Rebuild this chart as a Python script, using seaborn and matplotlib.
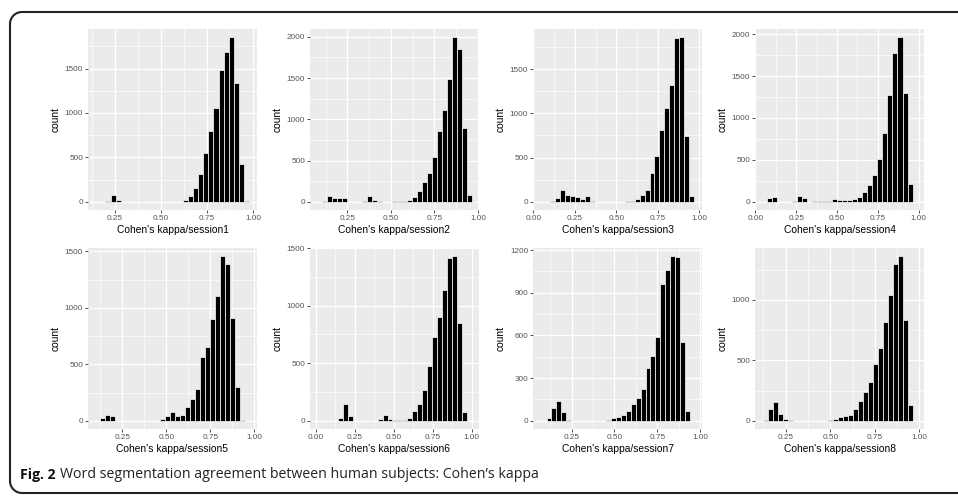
import numpy as np
import pandas as pd
import matplotlib
matplotlib.use("Agg")
import matplotlib.pyplot as plt
from matplotlib.lines import Line2D
from matplotlib.ticker import MultipleLocator, FormatStrFormatter
import seaborn as sns

# Kappa histograms, one per session: centre of the first bin, bin width, bin counts
sessions = ["session1", "session2", "session3", "session4",
            "session5", "session6", "session7", "session8"]
bin_first = [0.214, 0.119, 0.086, 0.057, 0.139, 0.029, 0.119, 0.136]
bin_width = [0.0278, 0.0288, 0.0300, 0.0307, 0.0284, 0.0319, 0.0288, 0.0281]

counts_s1 = [10, 72, 19, 0, 0, 0, 0, 0, 0, 0, 0, 0, 0, 0, 0,
             15, 60, 150, 312, 545, 797, 1060, 1485, 1692, 1853, 1342, 429, 5]
counts_s2 = [12, 72, 48, 44, 44, 0, 0, 3, 5, 64, 20, 8, 2, 3, 4, 5, 6,
             24, 60, 129, 245, 346, 539, 861, 1110, 1484, 1995, 1854, 897, 85]
counts_s3 = [2, 4, 38, 135, 71, 64, 56, 26, 64, 6, 1, 1, 1, 2, 2, 3, 5, 10,
             34, 75, 135, 323, 515, 812, 1056, 1320, 1853, 1861, 741, 68]
counts_s4 = [2, 47, 55, 3, 2, 2, 4, 63, 40, 3, 4, 5, 6, 8, 28, 20, 20, 16,
             36, 55, 119, 206, 321, 511, 815, 1279, 1778, 1964, 1303, 210]
counts_s5 = [21, 47, 44, 0, 0, 0, 0, 0, 0, 0, 0, 0, 18, 38, 82, 41, 53,
             124, 189, 277, 566, 654, 902, 1108, 1456, 1391, 913, 300, 5]
counts_s6 = [0, 0, 1, 2, 26, 148, 43, 2, 0, 0, 1, 2, 12, 52, 12, 3, 8, 10,
             26, 84, 142, 266, 478, 730, 898, 1135, 1413, 1430, 851, 75]
counts_s7 = [23, 89, 136, 65, 7, 1, 0, 0, 0, 0, 0, 1, 2, 23, 28, 40, 72,
             117, 157, 222, 374, 454, 589, 963, 1061, 1157, 1150, 552, 72]
counts_s8 = [3, 97, 157, 58, 14, 3, 1, 0, 0, 0, 0, 1, 2, 4, 14, 28, 36, 50,
             94, 163, 238, 320, 470, 605, 815, 1041, 1296, 1362, 834, 130]
all_counts = [counts_s1, counts_s2, counts_s3, counts_s4,
              counts_s5, counts_s6, counts_s7, counts_s8]

x_limits = [(0.106, 1.0195), (0.035, 1.006), (-0.003, 1.018), (-0.003, 1.033),
            (0.054, 1.016), (-0.038, 1.047), (0.026, 1.009), (0.078, 1.026)]
y_steps = [500, 500, 500, 500, 500, 500, 300, 500]

caption_bold = "Fig. 2"
caption_rest = "Word segmentation agreement between human subjects: Cohen\u2019s kappa"

W, H = 958, 496
sns.set_theme(style="darkgrid", rc={
    "axes.facecolor": "#EBEBEB",
    "grid.color": "white",
    "axes.axisbelow": True,
})
plt.rcParams["font.family"] = ["Liberation Sans", "DejaVu Sans"]

fig = plt.figure(figsize=(W / 100, H / 100), dpi=100)
fig.patch.set_facecolor("white")

col_left = [88, 310, 533, 755]
row_top = [29, 248]
pw, ph = 169, 181

for i, name in enumerate(sessions):
    r, c = divmod(i, 4)
    ax = fig.add_axes([col_left[c] / W, 1 - (row_top[r] + ph) / H, pw / W, ph / H])
    n = len(all_counts[i])
    w = bin_width[i]
    lo = bin_first[i] - w / 2
    edges = list(np.linspace(lo, lo + n * w, n + 1))
    df = pd.DataFrame({"kappa": [lo + w * (k + 0.5) for k in range(n)],
                       "count": all_counts[i]})
    sns.histplot(data=df, x="kappa", weights="count", bins=edges, ax=ax,
                 color="black", edgecolor="white", linewidth=0.5, alpha=1)
    top = max(all_counts[i])
    ax.set_xlim(*x_limits[i])
    ax.set_ylim(-0.05 * top, 1.05 * top)
    ax.xaxis.set_major_locator(MultipleLocator(0.25))
    ax.xaxis.set_minor_locator(MultipleLocator(0.125))
    ax.xaxis.set_major_formatter(FormatStrFormatter("%.2f"))
    ax.yaxis.set_major_locator(MultipleLocator(y_steps[i]))
    ax.yaxis.set_minor_locator(MultipleLocator(y_steps[i] / 2))
    ax.grid(which="major", color="white", lw=0.9)
    ax.grid(which="minor", color="white", lw=0.45)
    for s in ax.spines.values():
        s.set_visible(False)
    ax.tick_params(which="major", length=2.2, width=0.6, color="#333333",
                   labelsize=5.9, labelcolor="#555555", pad=1.2,
                   bottom=True, left=True)
    ax.tick_params(which="minor", length=0)
    ax.set_xlabel(f"Cohen's kappa/{name}", fontsize=7.4, labelpad=2.5, color="black")
    ax.set_ylabel("count", fontsize=7.4, labelpad=3, color="black")

# frame: left side with rounded corners, top and bottom running off the right edge
rad = 12
x0, ytop, ybot = 10, H - 12, 3
t = np.linspace(0, np.pi / 2, 20)
fx = ([W + 20, x0 + rad] + list(x0 + rad - rad * np.sin(t)) +
      list(x0 + rad - rad * np.cos(t)) + [x0 + rad, W + 20])
fy = ([ytop, ytop] + list(ytop - rad + rad * np.cos(t)) +
      list(ybot + rad - rad * np.sin(t)) + [ybot, ybot])
fig.add_artist(Line2D(fx, fy, transform=None, color="#222222", lw=1.5))

t1 = fig.text(20 / W, 1 - 475 / H, caption_bold, fontsize=10.2, fontweight="bold",
              family=["Open Sans", "DejaVu Sans"], color="#111111", va="center")
fig.canvas.draw()
bb = t1.get_window_extent(fig.canvas.get_renderer())
fig.text((bb.x1 + 4) / W, 1 - 475 / H, caption_rest, fontsize=10.2,
         family=["Open Sans", "DejaVu Sans"], color="#222222", va="center")

fig.savefig("out.png", dpi=100)
